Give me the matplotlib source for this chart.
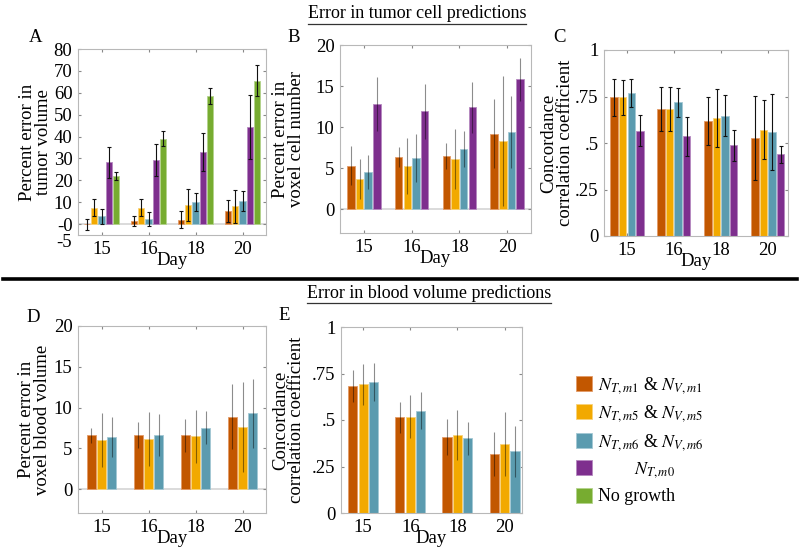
import numpy as np
import matplotlib
matplotlib.use('Agg')
import matplotlib.pyplot as plt
from matplotlib.patches import Patch
from matplotlib.lines import Line2D
import matplotlib.transforms as mtransforms

plt.rcParams['font.family'] = ['Liberation Serif', 'DejaVu Serif']
plt.rcParams['mathtext.fontset'] = 'stix'

days = ['15', '16', '18', '20']
series_names = [r'$N_{\mathit{T,m1}}$ & $N_{\mathit{V,m1}}$',
                r'$N_{\mathit{T,m5}}$ & $N_{\mathit{V,m5}}$',
                r'$N_{\mathit{T,m6}}$ & $N_{\mathit{V,m6}}$',
                r'        $N_{\mathit{T,m0}}$', 'No growth']
colors = ['#C25700', '#F2A900', '#5B9BAF', '#7E2F8E', '#77AC30']
edges = ['#E39A66', '#F9D27A', '#A3C8D4', '#B588C0', '#B3D38C']

# A: percent error in tumor volume (m1, m5, m6, m0, no growth)
a_mean = [[0.0, 1.4, 2.0, 6.0],
          [7.5, 7.5, 8.7, 8.2],
          [3.5, 2.3, 10.0, 10.5],
          [28.2, 29.3, 33.0, 44.3],
          [22.0, 39.0, 58.5, 65.5]]
a_err = [[2.5, 2.5, 4.0, 5.0],
         [4.0, 4.0, 7.4, 7.5],
         [3.5, 3.0, 4.0, 4.4],
         [7.0, 7.5, 8.7, 14.6],
         [2.0, 3.5, 3.5, 7.0]]

# B: percent error in voxel cell number
b_mean = [[5.3, 6.4, 6.5, 9.2],
          [3.7, 5.3, 6.1, 8.3],
          [4.5, 6.2, 7.3, 9.4],
          [12.8, 11.9, 12.4, 15.8]]
b_err = [[2.4, 1.2, 1.6, 4.2],
         [2.45, 3.4, 3.7, 7.9],
         [2.1, 2.9, 2.2, 4.4],
         [3.3, 3.3, 3.1, 2.6]]

# C: CCC tumor cells
c_mean = [[0.745, 0.683, 0.618, 0.527],
          [0.745, 0.683, 0.634, 0.572],
          [0.77, 0.72, 0.647, 0.557],
          [0.565, 0.536, 0.487, 0.439]]
c_err = [[0.10, 0.12, 0.129, 0.225],
         [0.095, 0.117, 0.154, 0.16],
         [0.075, 0.078, 0.11, 0.204],
         [0.083, 0.105, 0.083, 0.047]]

# D: percent error in voxel blood volume
d_mean = [[6.6, 6.7, 6.6, 8.9],
          [6.0, 6.2, 6.5, 7.6],
          [6.4, 6.65, 7.55, 9.3]]
d_err = [[0.9, 1.6, 2.0, 4.0],
         [3.3, 3.3, 3.25, 5.5],
         [2.45, 2.6, 2.0, 4.2]]

# E: CCC blood volume
e_mean = [[0.683, 0.514, 0.409, 0.317],
          [0.692, 0.518, 0.419, 0.371],
          [0.704, 0.55, 0.401, 0.331]]
e_err = [[0.088, 0.085, 0.097, 0.117],
         [0.11, 0.115, 0.136, 0.17],
         [0.10, 0.10, 0.09, 0.137]]

W, H = 800, 555
FS = 13.5
fig = plt.figure(figsize=(8, 5.55), dpi=100)


def px_axes(l, t, r, b):
    return fig.add_axes([l / W, 1 - b / H, (r - l) / W, (b - t) / H])


def grouped_bars(ax, means, errs, dark_err):
    n = len(means)
    x = np.arange(1, len(days) + 1)
    gw = min(0.8, n / (n + 1.5))
    step = gw / n
    for i in range(n):
        xi = x - gw / 2 + step * (i + 0.5)
        ax.bar(xi, means[i], width=step * 0.87, color=colors[i],
               edgecolor=edges[i], linewidth=0.6, zorder=2)
        if dark_err:
            ax.errorbar(xi, means[i], yerr=errs[i], fmt='none', ecolor='#111111',
                        elinewidth=0.8, capsize=1.6, capthick=0.8, zorder=3)
        else:
            ax.errorbar(xi, means[i], yerr=errs[i], fmt='none', ecolor='black',
                        alpha=0.45, elinewidth=0.8, capsize=0, zorder=3)
    ax.set_xticks(x)
    ax.set_xticklabels(days)


def style(ax, ylabel, yticks, yticklabels, ylim, xlim, zero_line, lpad=4):
    ax.set_ylim(*ylim)
    ax.set_xlim(*xlim)
    ax.set_yticks(yticks)
    ax.set_yticklabels(yticklabels)
    for s in ax.spines.values():
        s.set_color('#b8b8b8')
        s.set_linewidth(0.8)
    ax.tick_params(direction='in', length=2.5, color='#888888', top=True, right=True,
                   labelsize=FS, pad=4)
    ax.set_xlabel('Day', fontsize=FS, labelpad=-4)
    ax.set_ylabel(ylabel, fontsize=FS, linespacing=0.92, labelpad=lpad)
    if zero_line:
        ax.axhline(0, color='#d4d4d4', lw=1.2, zorder=1)


axA = px_axes(78, 49, 266, 235)
grouped_bars(axA, a_mean, a_err, True)
style(axA, 'Percent error in\ntumor volume', [0, 10, 20, 30, 40, 50, 60, 70, 80],
      ['-0', '10', '20', '30', '40', '50', '60', '70', '80'], (-5, 80), (0.5, 4.5), True, lpad=1)
# the -5 label sits just below the axis in the original
trans = mtransforms.blended_transform_factory(axA.transAxes, axA.transData)
axA.text(-0.035, -8.5, '-5', transform=trans, ha='right', va='center', fontsize=FS)

axB = px_axes(340, 45, 531, 233)
grouped_bars(axB, b_mean, b_err, False)
style(axB, 'Percent error in\nvoxel cell number', [0, 5, 10, 15, 20],
      ['0', '5', '10', '15', '20'], (-2.9, 20), (0.5, 4.5), True, lpad=8)

axC = px_axes(604, 50, 788, 236)
grouped_bars(axC, c_mean, c_err, True)
style(axC, 'Concordance\ncorrelation coefficient', [0, 0.25, 0.5, 0.75, 1],
      ['0', '.25', '.5', '.75', '1'], (0, 1), (0.51, 4.43), False, lpad=1)

axD = px_axes(78, 326, 266, 513)
grouped_bars(axD, d_mean, d_err, False)
style(axD, 'Percent error in\nvoxel blood volume', [0, 5, 10, 15, 20],
      ['0', '5', '10', '15', '20'], (-2.9, 20), (0.5, 4.5), True, lpad=2)

axE = px_axes(341, 327, 522, 513)
grouped_bars(axE, e_mean, e_err, False)
style(axE, 'Concordance\ncorrelation coefficient', [0, 0.25, 0.5, 0.75, 1],
      ['0', '.25', '.5', '.75', '1'], (0, 1), (0.53, 4.37), False, lpad=5)

# panel letters
for lab, (x, y) in {'A': (36, 37), 'B': (294, 37), 'C': (559, 37),
                    'D': (33, 318), 'E': (284, 316)}.items():
    fig.text(x / W, 1 - y / H, lab, fontsize=13.5, ha='center', va='center')

# section titles (underlined) and separator
titles = [fig.text(417 / W, 1 - 14 / H, 'Error in tumor cell predictions',
                   fontsize=13, ha='center', va='center'),
          fig.text(429 / W, 1 - 293 / H, 'Error in blood volume predictions',
                   fontsize=13, ha='center', va='center')]
fig.add_artist(Line2D([3 / W, 797 / W], [1 - 279 / H, 1 - 279 / H], color='black', lw=2.6))

fig.canvas.draw()
r = fig.canvas.get_renderer()
for t in titles:
    bb = t.get_window_extent(renderer=r).transformed(fig.transFigure.inverted())
    fig.add_artist(Line2D([bb.x0, bb.x1], [bb.y0 - 0.002, bb.y0 - 0.002],
                          color='#333333', lw=0.9))

handles = [Patch(facecolor=c, edgecolor=e, linewidth=0.6) for c, e in zip(colors, edges)]
fig.legend(handles, series_names, loc='upper left', bbox_to_anchor=(563 / W, 1 - 362 / H),
           frameon=False, fontsize=13, handlelength=0.9, handleheight=0.9,
           handletextpad=0.35, labelspacing=0.42, borderpad=0.2)

fig.savefig('out.png', dpi=100, facecolor='white')
